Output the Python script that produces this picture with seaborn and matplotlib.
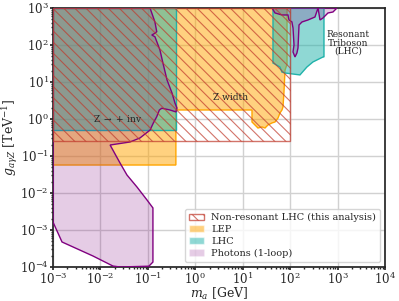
"""Exclusion limits on the aZgamma coupling vs ALP mass."""

import matplotlib
matplotlib.use("Agg")
import matplotlib.pyplot as plt
from matplotlib.patches import Patch
import seaborn as sns

# ---- data (GeV, TeV^-1) ----
# non-resonant LHC (this analysis)
nonres_x = [1e-3, 100, 100, 1e-3]
nonres_y = [0.26, 0.26, 1e3, 1e3]

# LEP: box plus Z-width region
lep_x = [1e-3, 0.39, 0.39, 15.7, 15.7, 18.1, 21, 25.5, 29.5, 34.1, 41.4, 48,
         55.5, 61, 67.3, 70.6, 74, 78, 86, 86, 1e-3]
lep_y = [0.057, 0.057, 1.75, 1.75, 0.83, 0.69, 0.57, 0.61, 0.57, 0.69, 0.78, 0.83,
         1.06, 1.45, 1.75, 2.11, 5.05, 21, 30, 1e3, 1e3]

# LHC: Z -> gamma + inv and resonant triboson
lhc_inv_x = [1e-3, 0.39, 0.39, 1e-3]
lhc_inv_y = [0.5, 0.5, 1e3, 1e3]
lhc_tri_x = [43.5, 43.5, 61, 67, 78, 161, 226, 303, 493, 517, 517]
lhc_tri_y = [1e3, 32.6, 25.4, 18.6, 17.5, 15.5, 25.4, 34.8, 47.4, 47.4, 1e3]

# photons (1-loop)
ph_x = [1e-3, 0.111, 0.141, 0.154, 0.141, 0.121, 0.141, 0.180, 0.208, 0.254,
        0.323, 0.373, 0.411, 0.392, 0.293, 0.197, 0.175, 0.154, 0.130, 0.111,
        0.068, 0.042, 0.016, 0.0259, 0.0363, 0.059, 0.096, 0.128, 0.128, 0.105,
        0.0259, 0.0184, 0.00697, 0.00155, 1e-3]
ph_y = [1e3, 1e3, 419, 229, 207, 186, 167, 73, 32.6, 11.3,
        5.05, 2.71, 1.98, 1.55, 1.75, 1.95, 1.75, 1.15, 0.77, 0.50,
        0.306, 0.239, 0.198, 0.0647, 0.0306, 0.0145, 0.00647, 0.00394, 1.36e-4, 1.05e-4,
        1e-4, 1.06e-4, 1.98e-4, 4.74e-4, 1.64e-3]
ph_top_x = [41.4, 48, 67.3, 90, 94.5, 109, 115, 120.6, 115, 126.6, 139, 146.5,
            154, 178, 238, 334, 387, 426, 493, 628, 800, 972]
ph_top_y = [1e3, 733, 647, 647, 474, 419, 288, 100, 64.7, 47.4, 60.8, 83,
            347, 419, 474, 571, 1e3, 474, 537, 733, 779, 1e3]

sns.set_theme(style="whitegrid", rc={
    "xtick.bottom": True, "ytick.left": True,
    "xtick.major.size": 2, "ytick.major.size": 2,
    "xtick.minor.size": 1.5, "ytick.minor.size": 1.5,
    "axes.edgecolor": ".15", "grid.color": ".82",
    "hatch.linewidth": 0.8,
})
plt.rcParams["font.family"] = ["DejaVu Serif"]
plt.rcParams["mathtext.fontset"] = "dejavuserif"

orange = "orange"
teal = "lightseagreen"
purple = "purple"
red = "#c0392b"

fig = plt.figure(figsize=(3.99, 3.01), dpi=100)
ax = fig.add_axes([0.1328, 0.113, 0.8321, 0.8605])
ax.set_xscale("log")
ax.set_yscale("log")

ax.fill(lep_x, lep_y, facecolor=orange, alpha=0.5, edgecolor="none", zorder=2)
ax.fill(lep_x, lep_y, facecolor="none", edgecolor=orange, lw=1, zorder=2)
for xs, ys in [(lhc_inv_x, lhc_inv_y), (lhc_tri_x, lhc_tri_y)]:
    ax.fill(xs, ys, facecolor=teal, alpha=0.5, edgecolor="none", zorder=3)
    ax.fill(xs, ys, facecolor="none", edgecolor=teal, lw=1, zorder=3)
for xs, ys in [(ph_x, ph_y), (ph_top_x, ph_top_y)]:
    ax.fill(xs, ys, facecolor=purple, alpha=0.2, edgecolor="none", zorder=4)
    ax.fill(xs, ys, facecolor="none", edgecolor=purple, lw=1, zorder=4)
ax.fill(nonres_x, nonres_y, facecolor="none", edgecolor=red, hatch="\\\\\\",
        lw=1, alpha=0.7, zorder=5)

ax.text(0.0234, 1.0, r"Z $\rightarrow$ + inv", fontsize=6.5, ha="center", va="center", zorder=6)
ax.text(5.66, 3.7, "Z width", fontsize=6.5, ha="center", va="center", zorder=6)
ax.text(1660, 113, "Resonant\nTriboson\n(LHC)", fontsize=6.5, ha="center", va="center",
        linespacing=0.9, zorder=6)

ax.set_xlim(1e-3, 1e4)
ax.set_ylim(1e-4, 1e3)
ax.set_xlabel(r"$m_a$ [GeV]", fontsize=9, labelpad=-1)
ax.set_ylabel(r"$g_{a\gamma Z}$ [TeV$^{-1}$]", fontsize=9, labelpad=0)
ax.tick_params(labelsize=8.5, pad=1)
ax.grid(True, which="major", zorder=1)
ax.set_axisbelow(True)

handles = [
    Patch(facecolor="white", edgecolor=red, hatch="\\\\\\", alpha=0.7,
          label="Non-resonant LHC (this analysis)"),
    Patch(facecolor=orange, alpha=0.5, label="LEP"),
    Patch(facecolor=teal, alpha=0.5, label="LHC"),
    Patch(facecolor=purple, alpha=0.2, label="Photons (1-loop)"),
]
leg = ax.legend(handles=handles, loc="lower right", fontsize=7, frameon=True,
                handlelength=1.5, labelspacing=0.3, borderpad=0.4)
leg.set_zorder(10)

fig.savefig("out.png", dpi=100)
plt.close(fig)
